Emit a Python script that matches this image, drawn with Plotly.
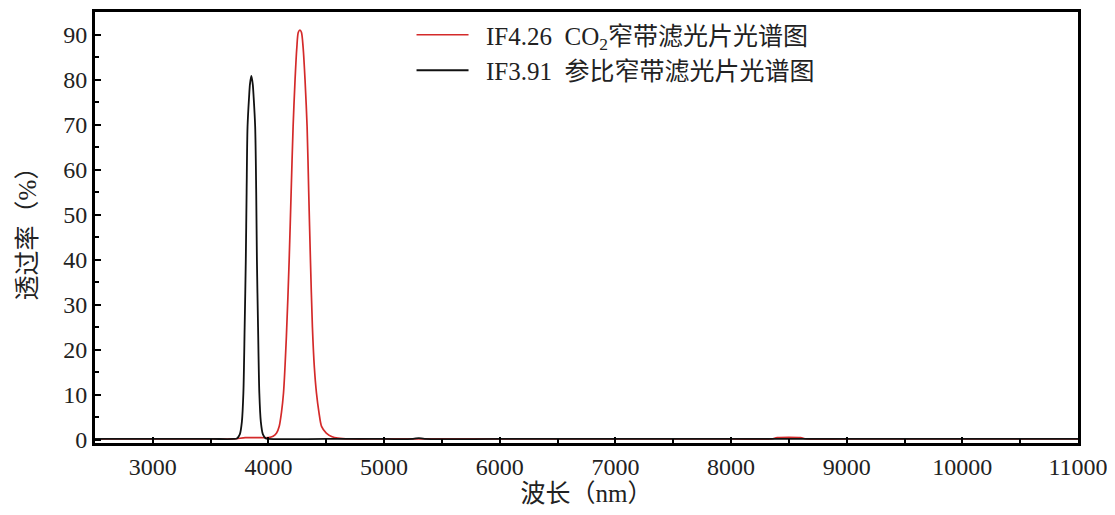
import plotly.graph_objects as go

# ---- data ----
wl_ref = [2500, 3000, 3500, 3700, 3727, 3752, 3770, 3783, 3794, 3804, 3811, 3819, 3832, 3840,
          3852, 3864, 3872, 3885, 3894, 3900, 3910, 3921, 3934, 3952, 3977, 4000, 4500, 5000,
          5250, 5300, 5350, 6000, 7000, 8000, 9000, 10000, 11000]
t_ref = [0.2, 0.2, 0.2, 0.2, 0.3, 1.2, 4.0, 10.4, 25.0, 40.0, 55.0, 69.5, 76.0, 79.0,
         80.8, 79.0, 76.0, 69.5, 55.0, 40.0, 25.0, 10.4, 4.0, 1.2, 0.3, 0.2, 0.2, 0.2,
         0.2, 0.4, 0.2, 0.2, 0.2, 0.2, 0.2, 0.2, 0.2]

wl_co2 = [2500, 3000, 3500, 3700, 3800, 3900, 4000, 4040, 4070, 4093, 4112, 4130, 4155, 4179,
          4196, 4213, 4230, 4245, 4258, 4272, 4285, 4300, 4316, 4334, 4348, 4363, 4380, 4397,
          4415, 4437, 4459, 4500, 4550, 4600, 4700, 5000, 6000, 7000, 8000, 8350, 8400, 8600,
          8650, 9000, 10000, 11000]
t_co2 = [0.2, 0.2, 0.2, 0.2, 0.5, 0.5, 0.5, 0.8, 1.5, 3.0, 6.0, 10.4, 23.0, 39.9,
         55.0, 69.5, 80.0, 87.0, 90.5, 91.0, 90.5, 87.0, 80.0, 69.5, 55.0, 39.9, 25.0, 16.0,
         10.4, 6.0, 3.0, 1.5, 0.7, 0.4, 0.2, 0.2, 0.2, 0.2, 0.2, 0.2, 0.5, 0.5,
         0.2, 0.2, 0.2, 0.2]

name_co2 = "\u00a0\u00a0IF4.26\u00a0\u00a0CO<sub>2</sub>窄带滤光片光谱图"
name_ref = "\u00a0\u00a0IF3.91\u00a0\u00a0参比窄带滤光片光谱图"

x_ticks = [3000, 4000, 5000, 6000, 7000, 8000, 9000, 10000, 11000]
x_ticktext = ["3000", "4000", "5000", "6000", "7000", "8000", "9000", "10000", "11000"]
y_ticks = [0, 10, 20, 30, 40, 50, 60, 70, 80, 90]

FONT = "Liberation Serif, Noto Sans CJK SC, serif"
TXT = "#222222"

fig = go.Figure()
fig.add_trace(go.Scatter(x=wl_co2, y=t_co2, mode="lines", name=name_co2,
                         line=dict(color="#d42a2a", width=1.7, shape="spline", smoothing=0.8)))
fig.add_trace(go.Scatter(x=wl_ref, y=t_ref, mode="lines", name=name_ref,
                         line=dict(color="#111111", width=1.8, shape="spline", smoothing=0.8)))

axis_common = dict(showgrid=False, zeroline=False, showline=True, linecolor="black",
                   linewidth=3, mirror=True, ticks="inside", ticklen=6, tickwidth=2,
                   tickcolor="black", tickfont=dict(family=FONT, size=24, color=TXT),
                   automargin=False, ticklabeloverflow="allow")

fig.update_xaxes(range=[2500, 11000], tickvals=x_ticks, ticktext=x_ticktext, **axis_common,
                 minor=dict(ticks="inside", ticklen=4, tickwidth=2, dtick=500, tickcolor="black"),
                 title=dict(text="波长（nm）", font=dict(family=FONT, size=25, color=TXT),
                            standoff=6))
fig.update_yaxes(range=[-0.7, 95], tickvals=y_ticks, **axis_common,
                 minor=dict(ticks="inside", ticklen=4, tickwidth=2, dtick=5, tickcolor="black"),
                 title=dict(text="透过率（%）", font=dict(family=FONT, size=25, color=TXT),
                            standoff=20))

# page body adds an 8px offset; size the figure so the plot area lands where the reference has it
fig.update_layout(
    width=1099, height=499,
    margin=dict(l=87, r=29, t=4, b=64),
    plot_bgcolor="white", paper_bgcolor="white",
    legend=dict(x=0.322, y=1.0, xanchor="left", yanchor="top",
                bgcolor="rgba(0,0,0,0)", font=dict(family=FONT, size=25, color=TXT),
                itemwidth=52, tracegroupgap=0),
    showlegend=True,
)

fig.write_html("out.html")
